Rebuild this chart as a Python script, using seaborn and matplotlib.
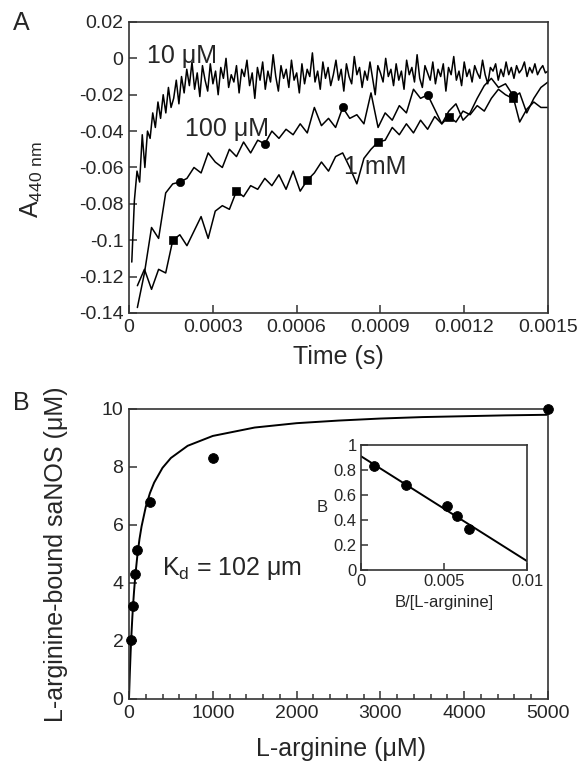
import numpy as np
import pandas as pd
import seaborn as sns
import matplotlib
import matplotlib.pyplot as plt
from matplotlib.ticker import FuncFormatter, MultipleLocator

sns.set_style("ticks")
plt.rcParams["font.family"] = ["Liberation Sans", "DejaVu Sans"]
plt.rcParams["mathtext.default"] = "regular"
plt.rcParams["axes.unicode_minus"] = False

# ---- panel A: kinetic traces (A440 vs time) ----
t_10uM = np.linspace(0.00001, 0.0015, 160)
a_10uM = [
    -0.112, -0.078, -0.062, -0.068, -0.042, -0.060, -0.040, -0.044, -0.030, -0.038,
    -0.024, -0.033, -0.020, -0.030, -0.016, -0.027, -0.022, -0.012, -0.025, -0.010,
    -0.019, -0.006, -0.015, -0.002, -0.017, -0.008, -0.021, -0.004, -0.012, -0.018,
    -0.003, -0.014, -0.007, -0.020, -0.005, -0.011, 0.000, -0.016, -0.009, -0.013,
    -0.004, -0.019, -0.006, -0.010, -0.001, -0.015, -0.008, -0.022, -0.005, -0.012,
    -0.002, -0.017, -0.007, -0.013, 0.002, -0.010, -0.018, -0.004, -0.011, -0.006,
    -0.016, -0.001, -0.012, -0.008, -0.019, -0.003, -0.014, -0.006, -0.010, 0.003,
    -0.013, -0.007, -0.017, -0.002, -0.011, -0.005, -0.015, -0.009, -0.001, -0.012,
    -0.006, -0.018, -0.003, -0.010, -0.014, 0.001, -0.009, -0.005, -0.016, -0.007,
    -0.012, -0.002, -0.011, -0.020, -0.004, -0.008, -0.013, 0.000, -0.010, -0.006,
    -0.015, -0.003, -0.012, -0.007, -0.017, -0.001, -0.009, -0.005, -0.013, 0.002,
    -0.011, -0.016, -0.004, -0.008, -0.012, -0.002, -0.014, -0.006, -0.010, -0.003,
    -0.018, -0.005, -0.009, 0.001, -0.012, -0.007, -0.015, -0.002, -0.010, -0.006,
    -0.013, -0.004, -0.008, -0.011, -0.001, -0.009, -0.014, -0.005, -0.007, -0.003,
    -0.012, -0.006, -0.010, -0.002, -0.009, -0.005, -0.011, -0.004, -0.008, -0.006,
    -0.002, -0.010, -0.005, -0.008, -0.003, -0.009, -0.006, -0.004, -0.008, -0.007,
]

t_slow = np.linspace(0.00003, 0.0015, 59)
a_100uM = [
    -0.137, -0.118, -0.093, -0.099, -0.074, -0.069, -0.068, -0.066, -0.060, -0.063,
    -0.052, -0.057, -0.060, -0.050, -0.054, -0.046, -0.052, -0.045, -0.047, -0.040,
    -0.044, -0.039, -0.042, -0.036, -0.041, -0.027, -0.037, -0.033, -0.038, -0.027,
    -0.033, -0.031, -0.036, -0.019, -0.038, -0.030, -0.034, -0.026, -0.030, -0.017,
    -0.022, -0.020, -0.028, -0.036, -0.029, -0.025, -0.034, -0.030, -0.022, -0.015,
    -0.011, -0.016, -0.014, -0.020, -0.035, -0.028, -0.024, -0.027, -0.027,
]
a_1mM = [
    -0.125, -0.116, -0.127, -0.116, -0.118, -0.100, -0.097, -0.103, -0.095, -0.087,
    -0.099, -0.084, -0.081, -0.083, -0.073, -0.076, -0.070, -0.072, -0.066, -0.070,
    -0.064, -0.072, -0.062, -0.073, -0.067, -0.063, -0.057, -0.062, -0.054, -0.052,
    -0.060, -0.069, -0.055, -0.050, -0.046, -0.045, -0.038, -0.042, -0.036, -0.041,
    -0.034, -0.039, -0.032, -0.036, -0.032, -0.035, -0.029, -0.031, -0.026, -0.029,
    -0.022, -0.017, -0.020, -0.022, -0.019, -0.030, -0.022, -0.016, -0.013,
]
marks_100uM = [6, 18, 29, 41, 53]
marks_1mM = [5, 14, 24, 34, 44, 53]

# ---- panel B: binding isotherm ----
arg_conc = [25, 50, 75, 100, 250, 1000, 5000]
bound = [2.05, 3.2, 4.3, 5.15, 6.8, 8.3, 10.0]
fit_x = [0, 10, 20, 30, 40, 50, 60, 75, 100, 125, 150, 200, 250, 300, 400, 500,
         700, 1000, 1500, 2000, 2500, 3000, 3500, 4000, 4500, 5000]
fit_y = [0, 0.89, 1.64, 2.27, 2.82, 3.29, 3.70, 4.24, 4.95, 5.51, 5.95, 6.62, 7.10,
         7.46, 7.97, 8.31, 8.73, 9.07, 9.36, 9.51, 9.60, 9.67, 9.72, 9.75, 9.78, 9.80]

# inset (Scatchard-type)
sc_x = [0.0008, 0.0027, 0.0052, 0.0058, 0.0065]
sc_y = [0.83, 0.68, 0.51, 0.43, 0.33]
sc_fit_x = [0.0, 0.01]
sc_fit_y = [0.91, 0.07]

SPINE = "#333333"
TICK_FS = 14
LABEL_FS = 18


def style_axes(ax, fs=TICK_FS, length=6):
    for s in ax.spines.values():
        s.set_visible(True)
        s.set_color(SPINE)
        s.set_linewidth(1.2)
    ax.tick_params(direction="in", length=length, width=1.1, color=SPINE,
                   labelsize=fs, top=False, right=False, pad=4)


fmt = FuncFormatter(lambda v, p: f"{round(v, 6):g}")

fig = plt.figure(figsize=(5.8, 7.63), dpi=100)
axA = fig.add_axes([0.2224, 0.5898, 0.7224, 0.3814])
axB = fig.add_axes([0.2224, 0.0839, 0.7224, 0.3801])
axI = fig.add_axes([0.622, 0.253, 0.287, 0.164])

# panel A
sns.lineplot(x=t_10uM, y=a_10uM, ax=axA, color="black", lw=1.1, estimator=None, sort=False)
sns.lineplot(x=t_slow, y=a_100uM, ax=axA, color="black", lw=1.1, estimator=None, sort=False)
sns.lineplot(x=t_slow, y=a_1mM, ax=axA, color="black", lw=1.1, estimator=None, sort=False)
sns.scatterplot(x=t_slow[marks_100uM], y=np.array(a_100uM)[marks_100uM], ax=axA,
                color="black", marker="o", s=36, edgecolor="black", zorder=5)
sns.scatterplot(x=t_slow[marks_1mM], y=np.array(a_1mM)[marks_1mM], ax=axA,
                color="black", marker="s", s=36, edgecolor="black", zorder=5)

axA.set_xlim(0, 0.0015)
axA.set_ylim(-0.14, 0.02)
axA.xaxis.set_major_locator(MultipleLocator(0.0003))
axA.yaxis.set_major_locator(MultipleLocator(0.02))
axA.xaxis.set_major_formatter(fmt)
axA.yaxis.set_major_formatter(fmt)
style_axes(axA)
axA.set_xlabel("Time (s)", fontsize=LABEL_FS)
axA.set_ylabel(r"A$_{440\ nm}$", fontsize=LABEL_FS)
axA.xaxis.set_label_coords(0.5, -0.11)
axA.yaxis.set_label_coords(-0.2, 0.46)
axA.text(0.000064, 0.0015, "10 μM", fontsize=LABEL_FS, va="center", ha="left")
axA.text(0.0002, -0.039, "100 μM", fontsize=LABEL_FS, va="center", ha="left")
axA.text(0.00077, -0.060, "1 mM", fontsize=LABEL_FS, va="center", ha="left")
fig.text(0.036, 0.97, "A", fontsize=LABEL_FS, va="center", ha="center")

# panel B
sns.lineplot(x=fit_x, y=fit_y, ax=axB, color="black", lw=1.4, estimator=None, sort=False)
sns.scatterplot(x=arg_conc, y=bound, ax=axB, color="black", s=50, edgecolor="black", zorder=5,
                clip_on=False)
axB.set_xlim(0, 5000)
axB.set_ylim(0, 10)
axB.xaxis.set_major_locator(MultipleLocator(1000))
axB.xaxis.set_minor_locator(MultipleLocator(200))
axB.yaxis.set_major_locator(MultipleLocator(2))
style_axes(axB)
axB.tick_params(which="minor", direction="in", length=3.5, width=1.1, color=SPINE,
                top=False, right=False, left=False)
axB.set_xlabel("L-arginine (μM)", fontsize=LABEL_FS)
axB.set_ylabel("L-arginine-bound saNOS (μM)", fontsize=LABEL_FS)
axB.xaxis.set_label_coords(0.505, -0.13)
axB.yaxis.set_label_coords(-0.145, 0.5)
axB.text(393, 4.28, r"K$_{d}$ = 102 μm", fontsize=LABEL_FS, va="baseline", ha="left")
fig.text(0.036, 0.472, "B", fontsize=LABEL_FS, va="center", ha="center")

# inset
sns.lineplot(x=sc_fit_x, y=sc_fit_y, ax=axI, color="black", lw=1.4, estimator=None, sort=False)
sns.scatterplot(x=sc_x, y=sc_y, ax=axI, color="black", s=50, edgecolor="black", zorder=5)
axI.set_xlim(0, 0.01)
axI.set_ylim(0, 1)
axI.xaxis.set_major_locator(MultipleLocator(0.005))
axI.yaxis.set_major_locator(MultipleLocator(0.2))
axI.xaxis.set_major_formatter(fmt)
axI.yaxis.set_major_formatter(fmt)
style_axes(axI, fs=12, length=5)
axI.tick_params(pad=3)
axI.set_xlabel("B/[L-arginine]", fontsize=12, labelpad=4)
axI.set_ylabel("B", fontsize=12, rotation=0, labelpad=8, va="center")

fig.savefig("out.png", dpi=100)
